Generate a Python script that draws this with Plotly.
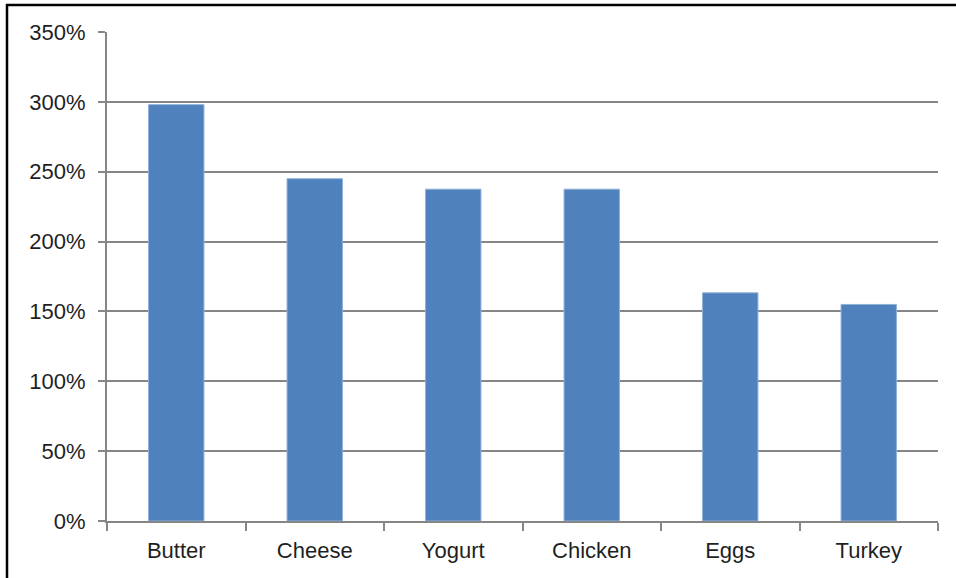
import plotly.graph_objects as go

categories = ["Butter", "Cheese", "Yogurt", "Chicken", "Eggs", "Turkey"]
values = [2.98, 2.45, 2.375, 2.375, 1.633, 1.55]
y_ticks = [0, 0.5, 1.0, 1.5, 2.0, 2.5, 3.0, 3.5]
y_tick_labels = ["0%", "50%", "100%", "150%", "200%", "250%", "300%", "350%"]

W, H = 956, 578
L, R, T, B = 107, 18, 32, 57
pw, ph = W - L - R, H - T - B

def px_x(x):
    return (x - L) / pw

def px_y(y):
    return (H - B - y) / ph

fig = go.Figure(go.Bar(
    x=categories, y=values,
    marker=dict(color="#4F81BD", line=dict(color="#8FB0DA", width=1)),
    width=0.4,
))

fig.update_layout(
    width=W, height=H,
    margin=dict(l=L, r=R, t=T, b=B),
    plot_bgcolor="white", paper_bgcolor="white",
    font=dict(family="Liberation Sans, Arial, sans-serif", size=22, color="#1f1f1f"),
    showlegend=False,
    xaxis=dict(
        showline=True, linecolor="#868686", linewidth=2,
        ticks="outside", tickson="boundaries", ticklen=8, tickcolor="#868686", tickwidth=2,
        showgrid=False, ticklabelstandoff=9,
    ),
    yaxis=dict(
        range=[0, 3.5], tickvals=y_ticks, ticktext=y_tick_labels,
        showline=True, linecolor="#868686", linewidth=2,
        ticks="outside", ticklen=7, tickcolor="#868686", tickwidth=2,
        showgrid=True, gridcolor="#868686", gridwidth=2,
        zeroline=False, ticklabelstandoff=8,
    ),
    shapes=[
        dict(type="line", xref="paper", yref="paper", x0=px_x(6), x1=px_x(W + 5),
             y0=px_y(5), y1=px_y(5), line=dict(color="black", width=2.5)),
        dict(type="line", xref="paper", yref="paper", x0=px_x(7), x1=px_x(7),
             y0=px_y(4), y1=px_y(H + 5), line=dict(color="black", width=2.5)),
    ],
)

fig.write_html(
    "out.html",
    config={"displayModeBar": False},
    post_script="document.body.style.margin='0';document.body.style.overflow='hidden';",
)
